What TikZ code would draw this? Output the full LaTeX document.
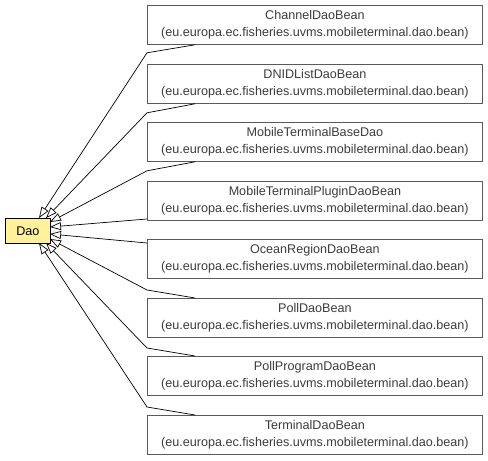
\documentclass[tikz,border=0pt]{standalone}
\usepackage{fontspec}
\setmainfont{Liberation Sans}
\usetikzlibrary{arrows.meta,calc}
\definecolor{daofill}{RGB}{255,242,155}
\definecolor{boxline}{RGB}{90,90,90}
\definecolor{txt}{RGB}{60,60,60}
\begin{document}
\begin{tikzpicture}[x=1pt,y=-1pt,
  cls/.style={draw=boxline,line width=0.8pt,fill=white,anchor=north west,minimum width=335pt,minimum height=39pt,inner sep=0pt,align=center,text=txt,font=\fontsize{12.6}{17}\selectfont},
  iface/.style={draw=black,line width=0.8pt,fill=daofill,anchor=north west,minimum width=45pt,minimum height=25pt,inner sep=0pt,font=\fontsize{12.6}{14}\selectfont},
  inh/.style={draw=black,line width=0.7pt,-{Triangle[open,length=11pt,width=8pt,fill=white]}}]
\useasboundingbox (0,0) rectangle (488,461);
\node[iface] (dao) at (5,218) {Dao};
\node[cls] (c1) at (147,5)   {ChannelDaoBean\\(eu.europa.ec.fisheries.uvms.mobileterminal.dao.bean)};
\node[cls] (c2) at (147,64)  {DNIDListDaoBean\\(eu.europa.ec.fisheries.uvms.mobileterminal.dao.bean)};
\node[cls] (c3) at (147,122) {MobileTerminalBaseDao\\(eu.europa.ec.fisheries.uvms.mobileterminal.dao.bean)};
\node[cls] (c4) at (147,181) {MobileTerminalPluginDaoBean\\(eu.europa.ec.fisheries.uvms.mobileterminal.dao.bean)};
\node[cls] (c5) at (147,239) {OceanRegionDaoBean\\(eu.europa.ec.fisheries.uvms.mobileterminal.dao.bean)};
\node[cls] (c6) at (147,298) {PollDaoBean\\(eu.europa.ec.fisheries.uvms.mobileterminal.dao.bean)};
\node[cls] (c7) at (147,356) {PollProgramDaoBean\\(eu.europa.ec.fisheries.uvms.mobileterminal.dao.bean)};
\node[cls] (c8) at (147,415) {TerminalDaoBean\\(eu.europa.ec.fisheries.uvms.mobileterminal.dao.bean)};
\draw[inh] ($(c1.south west)+(48,0)$) -- ($(c1.south west)+(0,8)$) -- ($(dao.north west)+(34,0)$);
\draw[inh] ($(c2.south west)+(48,0)$) -- ($(c2.south west)+(0,9)$) -- ($(dao.north west)+(41,0)$);
\draw[inh] ($(c3.south west)+(48,0)$) -- ($(c3.south west)+(0,9)$) -- ($(dao.north west)+(45,4)$);
\draw[inh] ($(c4.north west)+(0,38)$) -- ($(dao.north west)+(45,9)$);
\draw[inh] ($(c5.north west)+(0,4)$) -- ($(dao.north west)+(45,16)$);
\draw[inh] ($(c6.north west)+(48,0)$) -- ($(c6.north west)+(0,-8)$) -- ($(dao.north west)+(45,21)$);
\draw[inh] ($(c7.north west)+(48,0)$) -- ($(c7.north west)+(0,-8)$) -- ($(dao.north west)+(41,25)$);
\draw[inh] ($(c8.north west)+(48,0)$) -- ($(c8.north west)+(0,-8)$) -- ($(dao.north west)+(34,25)$);
\end{tikzpicture}
\end{document}
